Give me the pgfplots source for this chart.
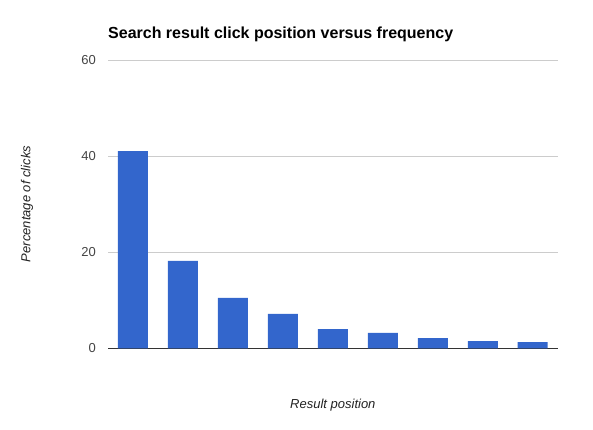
\documentclass[border=0pt]{standalone}
\usepackage{fontspec}
\setmainfont{Liberation Sans}
\usepackage{pgfplots}
\pgfplotsset{compat=1.18}
\definecolor{barblue}{HTML}{3366CC}
\definecolor{gridgray}{HTML}{CCCCCC}
\definecolor{ticktext}{HTML}{444444}
\definecolor{labeltext}{HTML}{222222}
\definecolor{baseline}{HTML}{333333}
\begin{document}
\begin{tikzpicture}[x=1pt,y=1pt]
\useasboundingbox (0,0) rectangle (593,429);
\begin{axis}[
    at={(108pt,80.7pt)}, anchor=south west,
    scale only axis,
    width=449.7pt, height=288pt,
    xmin=0.5, xmax=9.5,
    ymin=0, ymax=60,
    ytick={0,20,40,60},
    xtick=\empty,
    major tick length=0pt,
    axis x line*=bottom,
    axis y line*=left,
    x axis line style={-, draw=baseline, line width=1.3pt},
    y axis line style={draw=none},
    ymajorgrids=true,
    grid style={draw=gridgray, line width=0.9pt},
    /pgf/number format/assume math mode=true,
    yticklabel style={font=\fontsize{13}{15}\selectfont, text=ticktext, inner sep=0pt, xshift=-12pt},
    title={\bfseries Search result click position versus frequency},
    title style={at={(axis description cs:0,1)}, anchor=west, inner sep=0pt, yshift=20pt,
        font=\fontsize{16}{18}\selectfont, text=black},
    xlabel={\itshape Result position},
    xlabel style={at={(axis description cs:0.5,0)}, anchor=center, yshift=-56.7pt,
        font=\fontsize{13}{15}\selectfont, text=labeltext},
    ylabel={\itshape Percentage of clicks},
    ylabel style={at={(axis description cs:-0.1801,0.501)}, anchor=center,
        font=\fontsize{13}{15}\selectfont, text=labeltext},
    ybar, bar width=30pt,
]
\addplot[fill=barblue, draw=none] coordinates {
    (1,41.1) (2,18.2) (3,10.5) (4,7.15) (5,4.0) (6,3.2) (7,2.1) (8,1.5) (9,1.3)
};
\end{axis}
\end{tikzpicture}
\end{document}
